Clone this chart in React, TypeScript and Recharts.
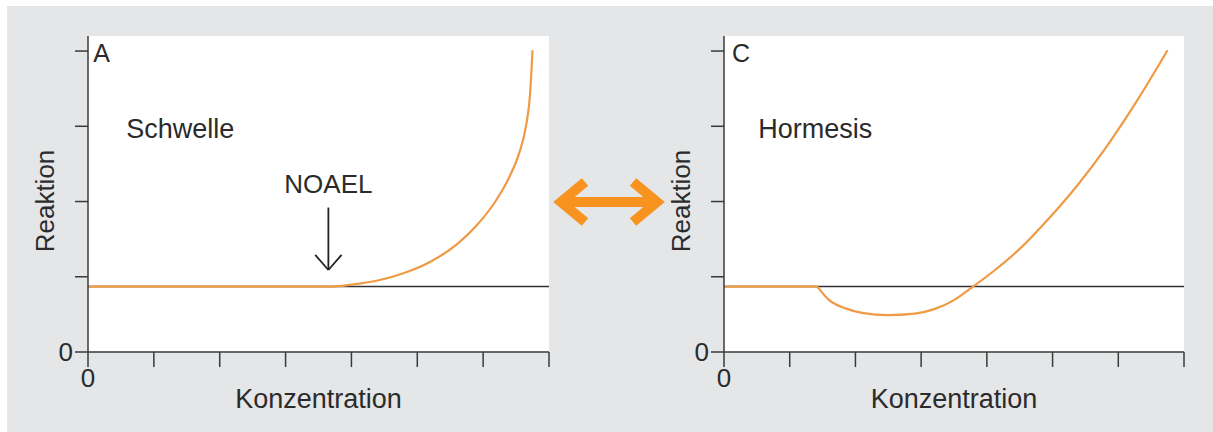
import React from "react";
import {
  CartesianGrid,
  Label,
  Line,
  LineChart,
  ReferenceDot,
  ReferenceLine,
  XAxis,
  YAxis,
} from "recharts";

// Panel A: threshold (Schwelle)
const konzA = [0, 1, 2, 3, 3.68, 4.0, 4.4, 4.8, 5.2, 5.6, 5.9, 6.2, 6.4, 6.55, 6.65, 6.71, 6.75];
const reaktionA = [0.87, 0.87, 0.87, 0.87, 0.87, 0.895, 0.95, 1.05, 1.2, 1.43, 1.68, 2.02, 2.33, 2.65, 3.0, 3.4, 4.01];

// Panel C: hormesis (flat part up to index 2, then the J-shaped curve)
const konzC = [0, 1, 1.42, 1.6, 1.85, 2.1, 2.5, 2.9, 3.2, 3.5, 3.79, 4.11, 4.5, 4.95, 5.4, 5.79, 6.3, 6.75];
const reaktionC = [0.87, 0.87, 0.87, 0.69, 0.58, 0.52, 0.49, 0.51, 0.57, 0.69, 0.87, 1.08, 1.37, 1.78, 2.24, 2.69, 3.36, 4.01];
const hormesisStart = 2;

const baseline = 0.87;
const noael = 3.65;
const xTicks = [0, 1, 2, 3, 4, 5, 6, 7];
const yTicks = [0, 1, 2, 3, 4];

const dataA = konzA.map((x, i) => ({ x, y: reaktionA[i] }));
const dataC = konzC.map((x, i) => ({ x, y: reaktionC[i] }));

const FONT = '"Liberation Sans", Arial, sans-serif';
const TEXT = "#2b2b2b";
const AXIS = "#3a3a3a";
const ORANGE = "#ef9a45";

const zeroOnly = (v: number) => (v === 0 ? "0" : "");

const yTitle = (props: any) => {
  const vb = props.viewBox;
  const x = vb.x + vb.width - 43;
  const y = vb.y + vb.height / 2 + 7;
  return (
    <text x={x} y={y} transform={`rotate(-90 ${x} ${y})`} textAnchor="middle" dominantBaseline="central"
      fill={TEXT} fontSize={26} fontFamily={FONT}>
      Reaktion
    </text>
  );
};

const xTitle = (props: any) => {
  const vb = props.viewBox;
  return (
    <text x={vb.x + vb.width / 2} y={vb.y + 56} textAnchor="middle" fill={TEXT} fontSize={27} fontFamily={FONT}>
      Konzentration
    </text>
  );
};

const textAt = (value: string, size: number, anchor: "start" | "middle") => (props: any) => {
  const vb = props.viewBox;
  return (
    <text x={vb.x + vb.width / 2} y={vb.y + vb.height / 2} textAnchor={anchor} dominantBaseline="central"
      fill={TEXT} fontSize={size} fontFamily={FONT}>
      {value}
    </text>
  );
};

function Panel({ series, letter, title, titleX, noaelArrow, marginLeft, marginRight, width }: any) {
  return (
    <LineChart width={width} height={432}
      margin={{ top: 36, right: marginRight, left: marginLeft, bottom: 50 }}>
      <CartesianGrid fill="#ffffff" stroke="none" horizontal={false} vertical={false} />
      <XAxis type="number" dataKey="x" domain={[0, 7]} ticks={xTicks} tickFormatter={zeroOnly}
        stroke={AXIS} strokeWidth={1.5} tickSize={15} height={30} allowDuplicatedCategory={false}
        tick={{ fill: TEXT, fontSize: 26, fontFamily: FONT }} tickLine={{ stroke: AXIS, strokeWidth: 1.5 }}>
        <Label content={xTitle} />
      </XAxis>
      <YAxis type="number" dataKey="y" domain={[0, 4.2]} ticks={yTicks} tickFormatter={zeroOnly}
        stroke={AXIS} strokeWidth={1.5} tickSize={13} width={60} allowDataOverflow
        tick={{ fill: TEXT, fontSize: 26, fontFamily: FONT }} tickLine={{ stroke: AXIS, strokeWidth: 1.5 }}>
        <Label content={yTitle} />
      </YAxis>
      <ReferenceLine y={baseline} stroke="#333" strokeWidth={1.5} />
      <ReferenceDot x={letter === "A" ? 0.08 : 0.12} y={3.98} r={0} stroke="none"
        label={{ content: textAt(letter, 25, "start") }} />
      <ReferenceDot x={titleX} y={2.97} r={0} stroke="none"
        label={{ content: textAt(title, 27, "start") }} />
      {noaelArrow && (
        <ReferenceDot x={noael} y={2.23} r={0} stroke="none"
          label={{ content: textAt("NOAEL", 26, "middle") }} />
      )}
      {noaelArrow && (
        <ReferenceLine segment={[{ x: noael, y: 1.92 }, { x: noael, y: 1.09 }]} stroke="#222" strokeWidth={1.8} />
      )}
      {noaelArrow && (
        <ReferenceLine segment={[{ x: noael - 0.2, y: 1.29 }, { x: noael, y: 1.09 }]} stroke="#222" strokeWidth={1.8} />
      )}
      {noaelArrow && (
        <ReferenceLine segment={[{ x: noael + 0.2, y: 1.29 }, { x: noael, y: 1.09 }]} stroke="#222" strokeWidth={1.8} />
      )}
      {series.map((d: any[], i: number) => (
        <Line key={i} data={d} type="monotone" dataKey="y" stroke={ORANGE} strokeWidth={2.2} dot={false}
          isAnimationActive={false} />
      ))}
    </LineChart>
  );
}

export default function App() {
  return (
    <div style={{ position: "absolute", left: 0, top: 0, width: 1213, height: 432, background: "#fff", overflow: "hidden" }}>
      <div style={{ position: "absolute", left: 7, top: 6, width: 1206, height: 426, background: "#e4e6e8" }} />
      <div style={{ position: "absolute", left: 0, top: 0 }}>
        <Panel series={[dataA]} letter="A" title="Schwelle" titleX={0.58} noaelArrow
          width={600} marginLeft={28} marginRight={51} />
      </div>
      <div style={{ position: "absolute", left: 600, top: 0 }}>
        <Panel series={[dataC.slice(0, hormesisStart + 1), dataC.slice(hormesisStart)]} letter="C"
          title="Hormesis" titleX={0.52} noaelArrow={false}
          width={613} marginLeft={64} marginRight={29} />
      </div>
      <svg style={{ position: "absolute", left: 0, top: 0 }} width={1213} height={432}>
        <g stroke="#f7931e" strokeWidth={10} fill="none" strokeLinejoin="miter">
          <line x1={566} y1={202} x2={652} y2={202} />
          <polyline points="585,182 561,202 585,222" />
          <polyline points="633,182 657,202 633,222" />
        </g>
      </svg>
    </div>
  );
}
